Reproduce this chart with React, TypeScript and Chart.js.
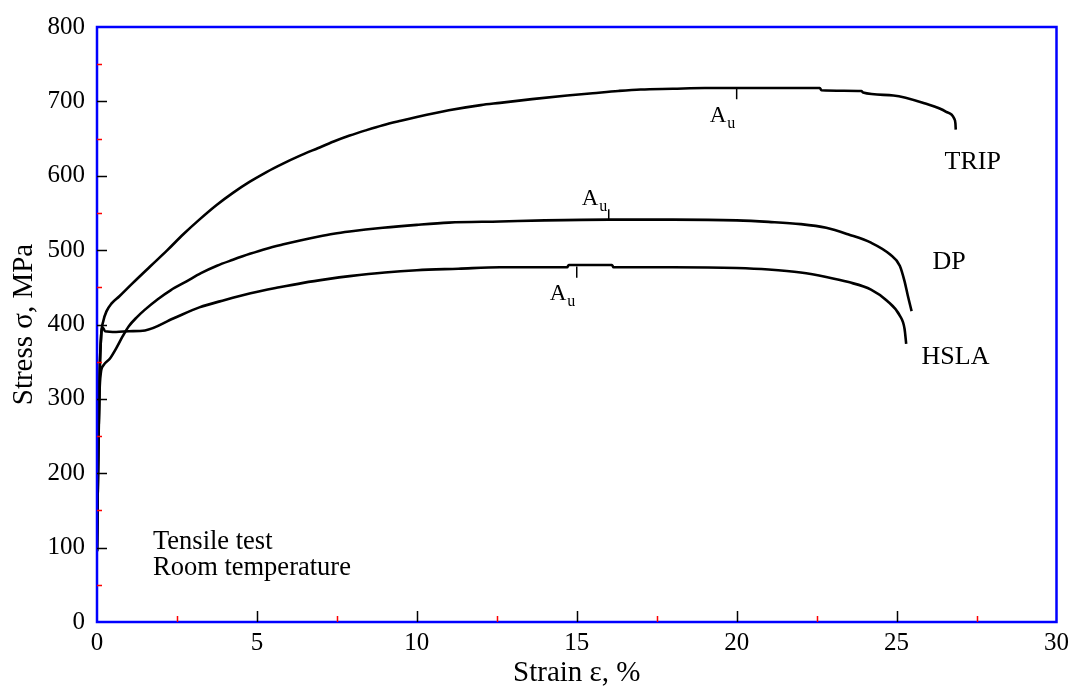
import React, { useEffect, useRef } from "react";
import { Chart, registerables } from "chart.js";

Chart.register(...registerables);

// ---- Data (strain %, stress MPa) ----
const tripStrain = [0, 0.04, 0.08, 0.13, 0.2, 0.3, 0.45, 0.7, 1.1, 1.66, 2.2, 2.69, 3.2, 3.75, 4.25, 4.78, 5.3, 5.8, 6.35, 6.9, 7.4, 7.9, 8.4, 8.94, 9.5, 10, 11, 12, 12.6, 13.6, 14.7, 15.5, 16.3, 17, 18, 19, 20, 21, 22.6, 22.65, 23.9, 23.95, 24.9, 25.9, 26.55, 26.8, 26.84, 26.85];
const tripStress = [95, 230, 330, 385, 405, 418, 428, 438, 455, 478, 500, 521, 541, 561, 577, 592, 605, 616, 627, 637, 646, 654, 661, 668, 674, 679, 688, 695, 698, 703, 708, 711, 714, 716, 717, 718, 718, 718, 718, 715, 714, 712, 708, 697, 686, 677, 670, 662];

const dpStrain = [0, 0.04, 0.08, 0.12, 0.2, 0.4, 0.6, 0.8, 1.0, 1.25, 1.5, 1.9, 2.3, 2.8, 3.25, 3.75, 4.25, 4.78, 5.3, 5.8, 6.35, 6.9, 7.4, 7.9, 8.94, 10, 11, 12.6, 14, 16, 18, 20, 21, 22, 22.8, 23.5, 24.2, 24.8, 25.1, 25.25, 25.35, 25.47];
const dpStress = [95, 230, 310, 335, 345, 354, 368, 384, 398, 410, 420, 434, 446, 458, 469, 479, 487, 495, 502, 507.5, 513, 518, 522, 525, 530, 534, 537, 538.5, 540, 541, 541, 540, 538, 535, 530, 521, 510, 494, 479, 458, 439, 418];

const hslaStrain = [0, 0.04, 0.08, 0.13, 0.18, 0.25, 0.6, 1.0, 1.5, 2.4, 3.2, 4.0, 4.8, 5.7, 6.45, 7.2, 7.9, 9, 10, 11.3, 12.6, 14.7, 14.75, 16.1, 16.15, 18, 20, 21, 22, 22.8, 23.5, 24.2, 24.7, 25.1, 25.25, 25.3];
const hslaStress = [95, 230, 330, 385, 396, 391, 390, 391, 392, 408.4, 423, 433, 442, 450, 456, 461, 465, 470, 473, 475, 477, 477, 480, 480, 477, 477, 476, 474, 470, 464, 457, 447, 432, 412, 394, 374];

const seriesNames = ["TRIP", "DP", "HSLA"];

// Uniform elongation markers (A_u)
const auStrain = [20, 16, 15];
const auStress = [718, 541, 478];
const auTickEnd = [703, 555, 463];

// Axis ticks
const xMajorTicks = [0, 5, 10, 15, 20, 25, 30];
const xMinorTicks = [2.5, 7.5, 12.5, 17.5, 22.5, 27.5];
const yMajorTicks = [0, 100, 200, 300, 400, 500, 600, 700, 800];
const yMinorTicks = [50, 150, 250, 350, 450, 550, 650, 750];

// Annotation texts
const noteLines = ["Tensile test", "Room temperature"];

// ---- Layout / style (not data) ----
const FONT = "'Liberation Serif', 'Times New Roman', serif";
const seriesLabelPos = [
  [26.5, 609],
  [26.12, 475],
  [25.78, 347],
];
const notePos = [1.75, 97.5];
const noteLineGap = 26;

const toPts = (xs: number[], ys: number[]) => xs.map((x, i) => ({ x, y: ys[i] }));

const decorPlugin = {
  id: "decor",
  afterDatasetsDraw(chart: any) {
    const { ctx, chartArea: a, scales } = chart;
    const xs = scales.x;
    const ys = scales.y;
    ctx.save();
    // frame
    ctx.strokeStyle = "#0000ff";
    ctx.lineWidth = 2.5;
    ctx.strokeRect(a.left, a.top, a.right - a.left, a.bottom - a.top);

    // major ticks (black)
    ctx.strokeStyle = "#000";
    ctx.lineWidth = 1.5;
    ctx.beginPath();
    xMajorTicks.forEach((v) => {
      if (v === 0 || v === 30) return;
      const px = Math.round(xs.getPixelForValue(v)) + 0.5;
      ctx.moveTo(px, a.bottom);
      ctx.lineTo(px, a.bottom - 11);
    });
    yMajorTicks.forEach((v) => {
      if (v === 0 || v === 800) return;
      const py = Math.round(ys.getPixelForValue(v)) + 0.5;
      ctx.moveTo(a.left, py);
      ctx.lineTo(a.left + 10, py);
    });
    ctx.stroke();

    // minor ticks (red)
    ctx.strokeStyle = "#ff0000";
    ctx.beginPath();
    xMinorTicks.forEach((v) => {
      const px = Math.round(xs.getPixelForValue(v)) + 0.5;
      ctx.moveTo(px, a.bottom);
      ctx.lineTo(px, a.bottom - 6);
    });
    yMinorTicks.forEach((v) => {
      const py = Math.round(ys.getPixelForValue(v)) + 0.5;
      ctx.moveTo(a.left, py);
      ctx.lineTo(a.left + 5, py);
    });
    ctx.stroke();

    // texts
    ctx.fillStyle = "#000";
    ctx.textAlign = "left";
    ctx.textBaseline = "alphabetic";
    ctx.font = `26px ${FONT}`;
    seriesNames.forEach((n, i) => {
      ctx.fillText(n, xs.getPixelForValue(seriesLabelPos[i][0]), ys.getPixelForValue(seriesLabelPos[i][1]));
    });
    ctx.font = `26.5px ${FONT}`;
    noteLines.forEach((t, i) => {
      ctx.fillText(t, xs.getPixelForValue(notePos[0]), ys.getPixelForValue(notePos[1]) + i * noteLineGap);
    });

    // A_u labels
    auStrain.forEach((s, i) => {
      const x0 = xs.getPixelForValue(s);
      const y0 = ys.getPixelForValue(auStress[i]);
      const up = auTickEnd[i] > auStress[i];
      const bx = x0 - 27;
      const by = up ? y0 - 15 : y0 + 34;
      ctx.font = `23px ${FONT}`;
      ctx.fillText("A", bx, by);
      const w = ctx.measureText("A").width;
      ctx.font = `16px ${FONT}`;
      ctx.fillText("u", bx + w + 1, by + 6);
    });
    ctx.restore();
  },
};

export default function App() {
  const ref = useRef<HTMLCanvasElement | null>(null);
  useEffect(() => {
    if (!ref.current) return;
    const lineDs = (label: string, xs: number[], ys: number[]) => ({
      label,
      data: toPts(xs, ys),
      showLine: true,
      borderColor: "#000",
      borderWidth: 2.6,
      pointRadius: 0,
      cubicInterpolationMode: "monotone" as const,
      fill: false,
    });
    const tickDs = auStrain.map((s, i) => ({
      label: "Au" + i,
      data: [
        { x: s, y: auStress[i] },
        { x: s, y: auTickEnd[i] },
      ],
      showLine: true,
      borderColor: "#000",
      borderWidth: 1.5,
      pointRadius: 0,
      fill: false,
    }));
    const chart = new Chart(ref.current, {
      type: "scatter",
      data: {
        datasets: [
          lineDs(seriesNames[0], tripStrain, tripStress),
          lineDs(seriesNames[1], dpStrain, dpStress),
          lineDs(seriesNames[2], hslaStrain, hslaStress),
          ...tickDs,
        ] as any,
      },
      options: {
        animation: false,
        responsive: false,
        events: [],
        layout: { padding: { top: 23, right: 18, left: 0, bottom: 0 } },
        plugins: {
          legend: { display: false },
          tooltip: { enabled: false },
        },
        scales: {
          x: {
            type: "linear",
            min: 0,
            max: 30,
            afterBuildTicks: (s: any) => {
              s.ticks = xMajorTicks.map((v) => ({ value: v }));
            },
            ticks: {
              color: "#000",
              font: { family: FONT, size: 25 },
              padding: 6,
              maxRotation: 0,
              callback: (v: any) => String(v),
            },
            grid: { display: false, drawTicks: false },
            border: { display: false },
            title: {
              display: true,
              text: "Strain ε, %",
              color: "#000",
              font: { family: FONT, size: 29, lineHeight: 1 },
              padding: { top: 0, bottom: 0 },
            },
            afterFit: (s: any) => {
              s.height = 66;
            },
          },
          y: {
            type: "linear",
            min: 0,
            max: 800,
            afterBuildTicks: (s: any) => {
              s.ticks = yMajorTicks.map((v) => ({ value: v }));
            },
            ticks: {
              color: "#000",
              font: { family: FONT, size: 25 },
              padding: 12,
              callback: (v: any) => String(v),
            },
            grid: { display: false, drawTicks: false },
            border: { display: false },
            title: {
              display: true,
              text: "Stress σ, MPa",
              color: "#000",
              font: { family: FONT, size: 29, lineHeight: 1 },
              padding: { top: 9.5, bottom: 0 },
            },
            afterFit: (s: any) => {
              s.width = 97;
            },
          },
        },
      } as any,
      plugins: [decorPlugin],
    });
    return () => chart.destroy();
  }, []);
  return (
    <div style={{ position: "absolute", left: 0, top: 0, width: 1075, height: 688, background: "#fff" }}>
      <canvas ref={ref} width={1075} height={688} style={{ display: "block" }} />
    </div>
  );
}
